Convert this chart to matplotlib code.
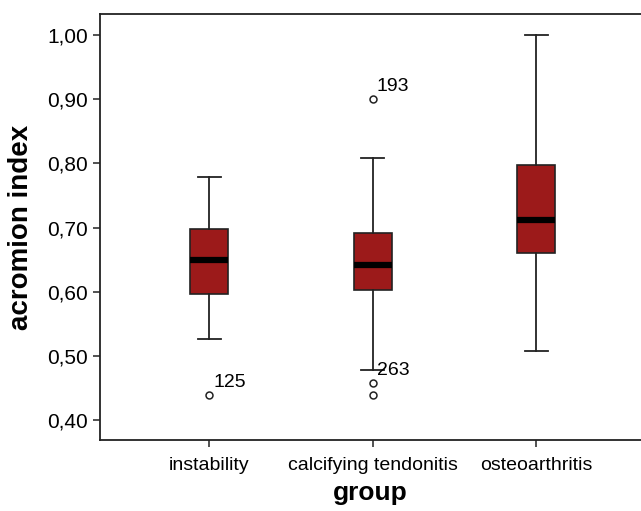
import matplotlib
matplotlib.use("Agg")
import matplotlib.pyplot as plt

# group labels and box statistics
groups = ["instability", "calcifying tendonitis", "osteoarthritis"]
whislo = [0.526, 0.478, 0.508]
q1 = [0.597, 0.603, 0.661]
med = [0.650, 0.642, 0.712]
q3 = [0.698, 0.692, 0.798]
whishi = [0.779, 0.809, 1.000]
fliers = [[0.439], [0.900, 0.458, 0.439], []]

# labelled outliers (group index, value, case number)
label_group = [0, 1, 1]
label_value = [0.439, 0.900, 0.458]
label_text = ["125", "193", "263"]

yticks = [0.40, 0.50, 0.60, 0.70, 0.80, 0.90, 1.00]

plt.rcParams["font.family"] = ["Liberation Sans", "DejaVu Sans"]

fig = plt.figure(figsize=(6.41, 5.11), dpi=100)
ax = fig.add_axes([100 / 641, 71 / 511, 541 / 641, 426 / 511])

stats = []
for i in range(len(groups)):
    stats.append({"whislo": whislo[i], "q1": q1[i], "med": med[i], "q3": q3[i],
                  "whishi": whishi[i], "fliers": fliers[i], "label": groups[i]})

ax.bxp(stats, positions=[1, 2, 3], widths=0.23, capwidths=0.14, patch_artist=True,
       boxprops=dict(facecolor="#9c1a1a", edgecolor="#222222", linewidth=1.2),
       medianprops=dict(color="black", linewidth=4.5),
       whiskerprops=dict(color="#222222", linewidth=1.3),
       capprops=dict(color="#222222", linewidth=1.3),
       flierprops=dict(marker="o", markersize=5, markerfacecolor="white",
                       markeredgecolor="#222222", markeredgewidth=1.1))

for g, v, t in zip(label_group, label_value, label_text):
    ax.annotate(t, (g + 1, v), xytext=(3, 3), textcoords="offset points",
                fontsize=14, va="bottom", ha="left")

ax.set_xlim(0.333, 3.64)
ax.set_ylim(0.369, 1.033)
ax.set_yticks(yticks)
ax.set_yticklabels([f"{v:.2f}".replace(".", ",") for v in yticks], fontsize=15)
ax.set_xticks([1, 2, 3])
ax.set_xticklabels(groups, fontsize=14)
ax.tick_params(axis="both", direction="out", length=5, width=1.2, color="#333333")
ax.tick_params(axis="x", pad=7)

for s in ["left", "bottom", "top"]:
    ax.spines[s].set_linewidth(1.3)
    ax.spines[s].set_color("#222222")
ax.spines["right"].set_visible(False)

ax.set_ylabel("acromion index", fontsize=20, fontweight="bold", va="center")
ax.set_xlabel("group", fontsize=19, fontweight="bold", va="center")
ax.yaxis.set_label_coords(-0.146, 0.5)
ax.xaxis.set_label_coords(0.5, -0.125)

fig.savefig("out.png", dpi=100)
